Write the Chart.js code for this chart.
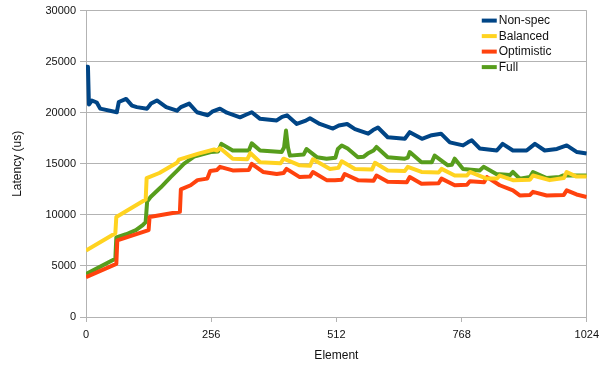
<!DOCTYPE html>
<html>
<head>
<meta charset="utf-8">
<title>Latency per element</title>
<script src="https://cdn.jsdelivr.net/npm/chart.js@4.4.1/dist/chart.umd.min.js"></script>
<style>
  body { margin: 0; background: #fff; }
  canvas { display: block; }
</style>
</head>
<body>
<canvas id="latency-chart" width="605" height="370"></canvas>
<script>
'use strict';

// series labels + colours
let seriesNames = ['Non-spec', 'Balanced', 'Optimistic', 'Full'];
let seriesColors = ['#004586', '#ffd320', '#ff420e', '#579d1c'];

// x ticks (element index)
let xTicks = [0, 256, 512, 768, 1024];

// element positions and latencies (us), one pair per series
let nonSpecX = [0, 4, 6, 12, 22, 29, 63, 67, 82, 94, 104, 125, 133, 145, 164, 186, 194, 211, 227, 249, 258, 274, 288, 315, 327, 339, 356, 390, 401, 411, 431, 448, 458, 478, 505, 517, 534, 550, 577, 587, 597, 617, 652, 662, 687, 707, 726, 744, 771, 781, 789, 805, 840, 852, 873, 901, 918, 938, 963, 983, 1004, 1024];
let nonSpecY = [24500, 24500, 20800, 21200, 21000, 20400, 20050, 21050, 21350, 20700, 20550, 20400, 20900, 21200, 20550, 20200, 20550, 20900, 20050, 19750, 20100, 20400, 20000, 19550, 19800, 20050, 19400, 19250, 19600, 19750, 18900, 19200, 19450, 18900, 18450, 18750, 18900, 18400, 17950, 18300, 18550, 17600, 17450, 18100, 17450, 17800, 17950, 17100, 16800, 17100, 17300, 16500, 16300, 16950, 16300, 16300, 16950, 16300, 16450, 16800, 16150, 16000];

let balancedX = [0, 60, 62, 122, 124, 150, 186, 190, 230, 262, 268, 274, 300, 330, 336, 356, 398, 404, 437, 458, 464, 499, 516, 523, 550, 585, 591, 617, 652, 658, 686, 721, 727, 754, 779, 785, 819, 840, 846, 873, 908, 914, 948, 977, 983, 1003, 1024];
let balancedY = [6500, 8200, 9800, 11500, 13600, 14100, 15100, 15400, 16000, 16400, 16300, 16550, 15500, 15450, 16050, 15150, 15050, 15500, 14850, 14800, 15450, 14500, 14600, 15250, 14500, 14450, 15100, 14350, 14300, 14700, 14200, 14150, 14500, 13850, 13850, 14200, 13550, 13550, 13850, 13400, 13450, 13850, 13400, 13600, 14200, 13750, 13750];

let optimisticX = [0, 62, 64, 128, 130, 192, 194, 214, 228, 248, 254, 268, 274, 300, 333, 339, 362, 390, 404, 410, 437, 458, 464, 492, 509, 523, 529, 556, 588, 594, 617, 656, 662, 686, 721, 727, 754, 779, 785, 814, 820, 846, 873, 887, 908, 914, 942, 977, 983, 1003, 1024];
let optimisticY = [3900, 5200, 7500, 8500, 9800, 10300, 12500, 12900, 13400, 13550, 14300, 14400, 14700, 14350, 14400, 15000, 14200, 14000, 14100, 14500, 13700, 13750, 14200, 13400, 13400, 13450, 14000, 13400, 13350, 13850, 13250, 13200, 13700, 13050, 13100, 13550, 12900, 12950, 13300, 13200, 13700, 12900, 12400, 11900, 11950, 12250, 11900, 11950, 12400, 12000, 11750];

let fullX = [0, 60, 62, 82, 102, 116, 122, 125, 132, 153, 173, 187, 200, 221, 255, 270, 277, 300, 333, 339, 356, 400, 405, 409, 413, 417, 445, 451, 472, 492, 510, 515, 523, 535, 556, 568, 576, 588, 594, 617, 652, 658, 662, 686, 707, 713, 740, 748, 754, 771, 805, 813, 839, 867, 873, 887, 908, 914, 942, 968, 975, 1024];
let fullY = [4200, 5700, 7800, 8100, 8500, 9000, 9300, 11300, 11750, 12700, 13700, 14350, 15000, 15700, 16150, 16200, 16950, 16300, 16300, 17000, 16300, 16150, 16600, 18250, 16600, 15800, 15900, 16450, 15650, 15500, 15600, 16450, 16800, 16500, 15650, 15700, 16000, 16300, 16650, 15650, 15500, 15600, 16150, 15150, 15150, 15800, 14850, 14900, 15500, 14500, 14350, 14700, 14000, 13900, 14200, 13550, 13700, 14200, 13600, 13700, 13850, 13850];

function toPoints(xs, ys) {
  let pts = [];
  for (let i = 0; i < xs.length; i++) {
    pts.push({ x: xs[i], y: ys[i] });
  }
  return pts;
}

let seriesData = [
  toPoints(nonSpecX, nonSpecY),
  toPoints(balancedX, balancedY),
  toPoints(optimisticX, optimisticY),
  toPoints(fullX, fullY)
];

let gridGrey = '#b3b3b3';
let fontFamily = '"Liberation Sans", Arial, sans-serif';

Chart.defaults.font.family = fontFamily;
Chart.defaults.color = '#111';

// legend drawn inside the plot, top right, like the original
let lineLegend = {
  id: 'lineLegend',
  afterDraw(chart) {
    let ctx = chart.ctx;
    let area = chart.chartArea;
    ctx.save();
    ctx.font = '12px ' + fontFamily;
    ctx.textBaseline = 'middle';
    chart.data.datasets.forEach((ds, i) => {
      let y = area.top + 10 + i * 15.5;
      let x0 = area.right - 105;
      ctx.strokeStyle = ds.borderColor;
      ctx.lineWidth = 4;
      ctx.beginPath();
      ctx.moveTo(x0, y);
      ctx.lineTo(x0 + 15, y);
      ctx.stroke();
      ctx.fillStyle = '#111';
      ctx.fillText(ds.label, x0 + 17, y + 0.5);
    });
    ctx.restore();
  }
};

let datasets = [];
for (let i = 0; i < seriesNames.length; i++) {
  datasets.push({
    label: seriesNames[i],
    data: seriesData[i],
    borderColor: seriesColors[i],
    backgroundColor: seriesColors[i],
    borderWidth: 4,
    borderJoinStyle: 'round',
    pointRadius: 0,
    tension: 0,
    fill: false
  });
}

new Chart(document.getElementById('latency-chart'), {
  type: 'line',
  data: { datasets: datasets },
  plugins: [lineLegend],
  options: {
    responsive: false,
    animation: false,
    devicePixelRatio: 1,
    layout: { padding: { top: 10, right: 18, left: 0, bottom: 0 } },
    plugins: {
      legend: { display: false },
      tooltip: { enabled: false }
    },
    scales: {
      x: {
        type: 'linear',
        min: 0,
        max: 1024,
        afterBuildTicks: (scale) => {
          scale.ticks = xTicks.map(v => ({ value: v }));
        },
        afterFit: (scale) => { scale.height = 53; },
        grid: {
          drawOnChartArea: true,
          color: (c) => (c.tick && c.tick.value === 1024 ? gridGrey : 'rgba(0,0,0,0)'),
          tickColor: gridGrey,
          tickLength: 5
        },
        border: { color: gridGrey },
        ticks: {
          font: { size: 11 },
          padding: 6,
          maxRotation: 0,
          callback: (v) => String(v)
        },
        title: {
          display: true,
          text: 'Element',
          font: { size: 12 },
          padding: { top: 0, bottom: 7 }
        }
      },
      y: {
        min: 0,
        max: 30000,
        afterFit: (scale) => { scale.width = 86; },
        grid: { color: gridGrey, tickColor: gridGrey, tickLength: 6 },
        border: { color: gridGrey },
        ticks: {
          stepSize: 5000,
          font: { size: 11 },
          padding: 4,
          callback: (v) => String(v)
        },
        title: {
          display: true,
          text: 'Latency (us)',
          font: { size: 12 },
          padding: { top: 10, bottom: 0 }
        }
      }
    }
  }
});
</script>
</body>
</html>
